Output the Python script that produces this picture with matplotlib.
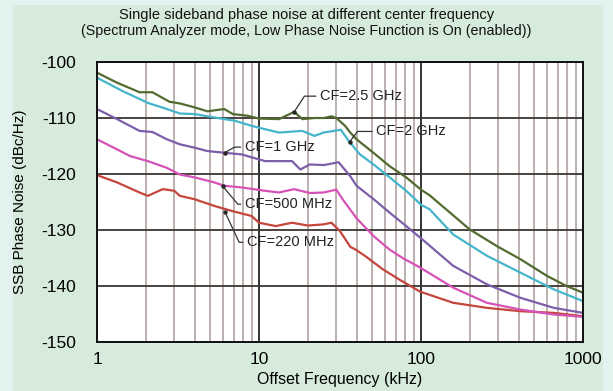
import matplotlib
matplotlib.use('Agg')
import matplotlib.pyplot as plt
from matplotlib.patches import Rectangle

plt.rcParams['font.family'] = ['Liberation Sans', 'DejaVu Sans']
plt.rcParams['axes.unicode_minus'] = False

# offset frequency (kHz) / SSB phase noise (dBc/Hz)
f_25g = [1, 1.33, 1.83, 2.2, 2.8, 3.25, 4.0, 4.8, 6.1, 6.9, 8.5, 10, 13.3, 16.5, 18.5, 22, 25.2, 28, 30,
         34, 36.6, 40, 50.8, 64, 81, 100, 113, 200, 295, 410, 600, 790, 1000]
pn_25g = [-101.9, -103.7, -105.4, -105.4, -107.1, -107.4, -108.1, -108.8, -108.4, -109.3, -109.6, -110.1,
          -110.2, -108.9, -110.2, -110.0, -110.0, -109.7, -110.0, -111.4, -112.6, -113.8, -116.2, -118.6,
          -120.6, -122.8, -123.8, -129.9, -132.9, -135.2, -138.2, -140.0, -141.2]

f_2g = [1, 1.44, 2.06, 2.7, 3.25, 4, 5.3, 7.1, 9, 10.9, 13.3, 18.5, 22, 25, 29, 32, 36, 42, 51, 64, 81,
        100, 113, 158, 255, 410, 660, 1000]
pn_2g = [-102.8, -105.2, -107.3, -108.4, -109.2, -109.3, -109.9, -110.5, -111.4, -112.0, -112.6, -112.3,
         -113.2, -112.6, -112.3, -112.1, -114.2, -116.5, -118.3, -120.6, -123.0, -125.5, -126.3, -130.8,
         -134.6, -137.6, -140.6, -142.7]

f_1g = [1, 1.33, 1.83, 2.2, 2.7, 3.25, 4, 4.8, 6.1, 7.8, 10.9, 13.3, 16, 18, 20.6, 25.2, 31, 36.6, 40,
        51, 64, 81, 104, 158, 255, 410, 660, 1000]
pn_1g = [-108.4, -110.2, -112.3, -112.5, -113.8, -114.7, -115.3, -115.9, -116.2, -116.5, -117.7, -117.7,
         -117.7, -119.2, -118.3, -118.4, -117.9, -120.4, -122.1, -124.5, -126.9, -129.3, -131.9, -136.4,
         -139.7, -142.1, -143.9, -144.8]

f_500m = [1, 1.33, 1.6, 2.06, 2.7, 3.25, 4, 5.3, 6.1, 7.8, 10.9, 13.3, 16.5, 20.6, 25, 30, 33, 40, 51,
          64, 77, 98.6, 158, 255, 410, 660, 1000]
pn_500m = [-113.8, -115.6, -116.8, -117.7, -118.9, -120.1, -120.6, -121.5, -122.1, -122.4, -123.0, -123.3,
           -122.7, -123.4, -123.3, -122.8, -124.6, -127.9, -131.1, -133.5, -135.0, -136.7, -140.3, -143.0,
           -144.2, -145.1, -145.5]

f_220m = [1, 1.33, 1.83, 2.06, 2.55, 3, 3.25, 4, 5.3, 6.8, 9, 10, 12.7, 16, 20, 25, 28, 31.6, 36.6, 40,
          46, 58, 74, 98.6, 158, 255, 410, 660, 1000]
pn_220m = [-120.2, -121.5, -123.3, -123.9, -122.7, -123.0, -123.9, -124.5, -125.7, -126.6, -127.5, -128.7,
           -129.3, -128.7, -129.2, -129.0, -128.7, -130.2, -133.0, -133.6, -134.8, -137.0, -138.9, -141.0,
           -143.0, -143.9, -144.5, -144.8, -145.4]

# label text, point on curve, text anchor, leader angle
labels = ['CF=2.5 GHz', 'CF=2 GHz', 'CF=1 GHz', 'CF=500 MHz', 'CF=220 MHz']
lab_pt = [(16.5, -108.9), (36.4, -114.2), (6.15, -116.2), (5.98, -122.2), (6.15, -126.7)]
lab_txt = [(23.8, -106.1), (52.8, -112.4), (8.18, -115.2), (8.18, -125.4), (8.4, -132.2)]
lab_ang = [57, 53, 30, -50, -65]

fig = plt.figure(figsize=(6.13, 3.91), dpi=100)
fig.patch.set_facecolor('#e2f2ef')
fig.patches.append(Rectangle((13 / 613, 0), 590 / 613, 386 / 391, transform=fig.transFigure,
                             facecolor='#d6ebdb', edgecolor='none', zorder=-1))

ax = fig.add_axes([97 / 613, 1 - 342 / 391, 486 / 613, 280 / 391])
ax.set_facecolor('white')

ax.plot(f_220m, pn_220m, color='#c4463c', lw=1.6)
ax.plot(f_500m, pn_500m, color='#d652b6', lw=1.6)
ax.plot(f_1g, pn_1g, color='#7c5eaa', lw=1.6)
ax.plot(f_2g, pn_2g, color='#45b5cc', lw=1.6)
ax.plot(f_25g, pn_25g, color='#536b30', lw=1.6)

ax.set_xscale('log')
ax.set_xlim(1, 1000)
ax.set_ylim(-150, -100)
ax.set_yticks(range(-150, -99, 10))
ax.set_xticks([1, 10, 100, 1000])
ax.set_xticklabels(['1', '10', '100', '1000'])
ax.grid(True, which='minor', axis='x', color='#a89c98', lw=1.1)
ax.grid(True, which='major', axis='x', color='#111111', lw=1.2)
ax.grid(True, which='major', axis='y', color='#3a3433', lw=1.3)
ax.set_axisbelow(True)
for s in ax.spines.values():
    s.set_color('#111111')
    s.set_linewidth(1.4)
ax.tick_params(which='both', length=0)
ax.tick_params(axis='y', pad=15, labelsize=12.5)
ax.tick_params(axis='x', pad=7, labelsize=12.5)

for t, p, q, a in zip(labels, lab_pt, lab_txt, lab_ang):
    ax.annotate(t, xy=p, xytext=q, ha='left', va='center', fontsize=10.5, color='#222222',
                arrowprops=dict(arrowstyle='-', color='#333333', lw=0.9, shrinkA=1, shrinkB=0,
                                connectionstyle='angle,angleA=0,angleB=%d,rad=0' % a))
    ax.plot(p[0], p[1], 'o', color='#222222', ms=2.2)

ax.set_xlabel('Offset Frequency (kHz)', fontsize=11.5, labelpad=4)
ax.set_ylabel('SSB Phase Noise (dBc/Hz)', fontsize=11, labelpad=10)

fig.text(0.5, 1 - 15 / 391, 'Single sideband phase noise at different center frequency',
         ha='center', va='center', fontsize=10.5, color='#111111')
fig.text(0.5, 1 - 31 / 391, '(Spectrum Analyzer mode, Low Phase Noise Function is On (enabled))',
         ha='center', va='center', fontsize=10.3, color='#111111')

fig.savefig('out.png', dpi=100, facecolor=fig.get_facecolor())
